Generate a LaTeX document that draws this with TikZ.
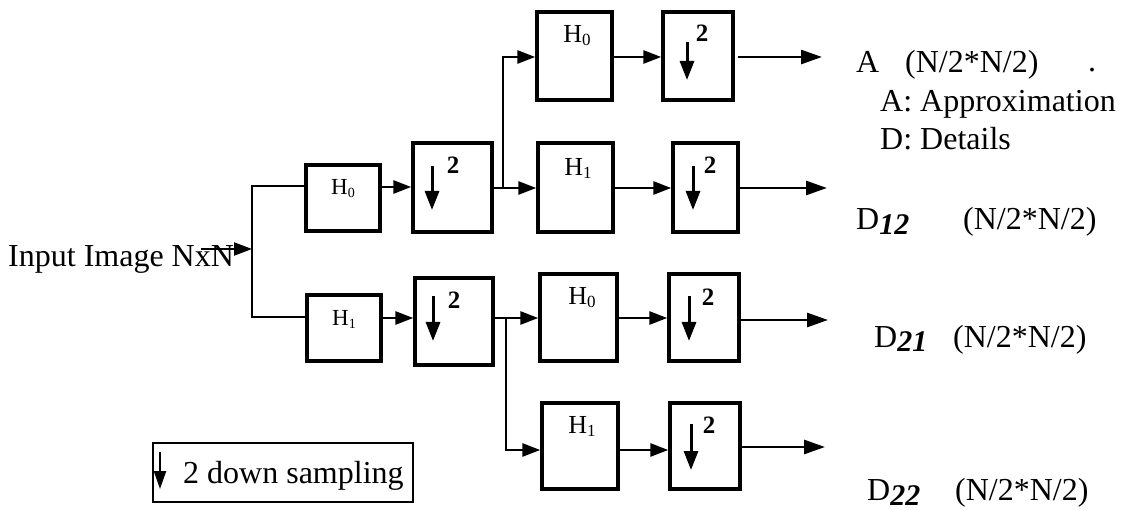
\documentclass[tikz,border=0pt]{standalone}
\usepackage{fontspec}
\setmainfont{Liberation Serif}
\usetikzlibrary{arrows.meta}
\tikzset{
  blk/.style={draw, line width=3.4pt, inner sep=0pt},
  wire/.style={line width=2.8pt},
  arr/.style={line width=2.8pt, -{Triangle[length=18pt,width=13pt]}},
  outarr/.style={line width=2.8pt, -{Triangle[length=21pt,width=14pt]}},
  dn/.style={line width=3pt, -{Triangle[length=19pt,width=14pt]}},
  big/.style={font=\fontsize{32}{38}\selectfont, inner sep=0pt, anchor=base west},
  hsmall/.style={font=\fontsize{23}{26}\selectfont, inner sep=0pt, anchor=base},
  hbig/.style={font=\fontsize{26}{30}\selectfont, inner sep=0pt, anchor=base},
  two/.style={font=\fontsize{25}{28}\selectfont\bfseries, inner sep=0pt},
}
\newcommand{\hsub}[2]{H\raisebox{-3pt}{\fontsize{#2}{#2}\selectfont #1}}
\newcommand{\dsub}[1]{D\raisebox{-5pt}{\fontsize{30}{34}\selectfont\bfseries\itshape #1}}
\begin{document}
\begin{tikzpicture}[x=1pt,y=-1pt]
\useasboundingbox (0,0) rectangle (1129,510);

% input
\node[big] (in) at (8,267) {Input Image NxN};
\coordinate (split) at (252,249);

% first level filters and down samplers
\node[blk, minimum width=74pt, minimum height=66pt] (H0a) at (343,198) {};
\node[blk, minimum width=74pt, minimum height=66pt] (H1a) at (344,328) {};
\node[blk, minimum width=79pt, minimum height=89pt] (Da) at (452.5,187.5) {};
\node[blk, minimum width=78pt, minimum height=87pt] (Db) at (454,321.5) {};

% second level, upper branch
\node[blk, minimum width=75pt, minimum height=88pt] (H0b) at (574.5,56) {};
\node[blk, minimum width=70pt, minimum height=88pt] (Dc) at (698,56) {};
\node[blk, minimum width=75pt, minimum height=89pt] (H1b) at (575.5,187.5) {};
\node[blk, minimum width=65pt, minimum height=89pt] (Dd) at (705.5,187.5) {};

% second level, lower branch
\node[blk, minimum width=77pt, minimum height=87pt] (H0c) at (578.5,317.5) {};
\node[blk, minimum width=70pt, minimum height=87pt] (De) at (704,317.5) {};
\node[blk, minimum width=76pt, minimum height=86pt] (H1c) at (580,446) {};
\node[blk, minimum width=70pt, minimum height=86pt] (Df) at (705,446) {};

% filter labels
\node[hsmall] at (343,195) {\hsub{0}{14}};
\node[hsmall] at (344,326) {\hsub{1}{14}};
\node[hbig] at (577,43) {\hsub{0}{17}};
\node[hbig] at (578,176) {\hsub{1}{17}};
\node[hbig] at (582,305) {\hsub{0}{17}};
\node[hbig] at (582,433) {\hsub{1}{17}};

% down sampling symbols
\draw[dn] (432,166) -- (432,210);
\node[two] at (453,165) {2};
\draw[dn] (433,296) -- (433,341);
\node[two] at (454,300) {2};
\draw[dn] (687,42) -- (687,80);
\node[two] at (702,33) {2};
\draw[dn] (693,166) -- (693,210);
\node[two] at (710,165) {2};
\draw[dn] (689,296) -- (689,341);
\node[two] at (708,297) {2};
\draw[dn] (691,424) -- (691,470);
\node[two] at (709,425) {2};

% input split
\draw[line width=2.2pt, -{Triangle[length=18pt,width=13pt]}] ([xshift=-33pt]in.east |- split) -- (split);
\draw[line width=2.2pt] (H0a.west |- 0,186) -| (split) |- (H1a.west |- 0,317);

% first level connectors
\draw[arr] (H0a.east |- 0,187) -- (Da.west |- 0,187);
\draw[arr] (H1a.east |- 0,318) -- (Db.west |- 0,318);

% upper branch
\coordinate (bu) at (503,188);
\draw[wire] (Da.east |- bu) -- (bu);
\draw[arr] (bu) -- (H1b.west |- bu);
\draw[arr] (bu) |- (H0b.west |- 0,57);
\draw[arr] (H0b.east |- 0,57) -- (Dc.west |- 0,57);
\draw[arr] (H1b.east |- bu) -- (Dd.west |- bu);

% lower branch
\coordinate (bl) at (506,318);
\draw[wire] (Db.east |- bl) -- (bl);
\draw[arr] (bl) -- (H0c.west |- bl);
\draw[arr] (bl) |- (H1c.west |- 0,450);
\draw[arr] (H0c.east |- 0,318) -- (De.west |- 0,318);
\draw[arr] (H1c.east |- 0,450) -- (Df.west |- 0,450);

% outputs
\coordinate (oA) at (822,57);
\coordinate (o12) at (827,188);
\coordinate (o21) at (828,320);
\coordinate (o22) at (825,447);
\draw[outarr] ([xshift=3pt]Dc.east |- oA) -- (oA);
\draw[outarr] (Dd.east |- o12) -- (o12);
\draw[outarr] (De.east |- o21) -- (o21);
\draw[outarr] (Df.east |- o22) -- (o22);

% output labels
\node[big] (lA) at (856,73) {A};
\node[big] (sA) at (905,73) {(N/2*N/2)};
\node[big] (dot) at (1088,72) {.};
\node[big] (kA) at (880,112) {A: Approximation};
\node[big] (kD) at (880,150) {D: Details};
\node[big] (l12) at (856,230) {\dsub{12}};
\node[big] (s12) at (963,230) {(N/2*N/2)};
\node[big] (l21) at (874,347) {\dsub{21}};
\node[big] (s21) at (953,347) {(N/2*N/2)};
\node[big] (l22) at (867,500) {\dsub{22}};
\node[big] (s22) at (955,500) {(N/2*N/2)};

% legend
\node[blk, line width=2.8pt, minimum width=260pt, minimum height=59pt] (leg) at (283,472.5) {};
\draw[line width=2.4pt, -{Triangle[length=18pt,width=12pt]}] (160,452) -- (160,489);
\node[big] (legtxt) at (183,483) {2 down sampling};
\end{tikzpicture}
\end{document}
